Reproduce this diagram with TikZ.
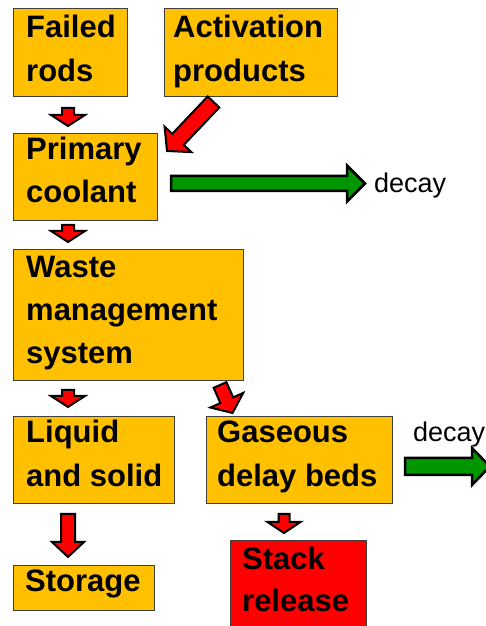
\documentclass[tikz,border=0pt]{standalone}
\usepackage{fontspec}
\setmainfont{Liberation Sans}
\usetikzlibrary{calc}
\definecolor{boxorange}{RGB}{255,192,0}
\definecolor{arrowred}{RGB}{255,0,0}
\definecolor{arrowgreen}{RGB}{0,150,0}
\definecolor{edgegray}{RGB}{64,64,64}
\tikzset{
  box/.style={draw=edgegray, line width=1pt, fill=boxorange, anchor=north west, inner sep=0pt, outer sep=0pt},
  lbl/.style={font=\fontsize{31}{43}\selectfont\bfseries, inner sep=0pt, anchor=base west},
  dlbl/.style={font=\fontsize{27}{32}\selectfont, inner sep=0pt, anchor=base west},
  redarrow/.style={draw=black, line width=2pt, fill=arrowred, line join=miter},
  greenarrow/.style={draw=black, line width=2.5pt, fill=arrowgreen, line join=miter},
}
% #1 style, #2 tail coordinate, #3 tip coordinate, #4 shaft half width, #5 head half width, #6 head length
\newcommand\blockarrow[6]{%
  \coordinate (baH) at ($(#3)!#6!(#2)$);
  \draw[#1] ($(#2)!#4!90:(#3)$) -- ($(baH)!#4!90:(#3)$) -- ($(baH)!#5!90:(#3)$) -- (#3)
    -- ($(baH)!#5!-90:(#3)$) -- ($(baH)!#4!-90:(#3)$) -- ($(#2)!#4!-90:(#3)$) -- cycle;}
\begin{document}
\begin{tikzpicture}[x=1pt,y=1pt]
\useasboundingbox (0,0) rectangle (486,626);
\clip (0,0) rectangle (486,626);
\fill[white] (0,0) rectangle (486,626);

% boxes
\node[box, minimum width=114pt, minimum height=88pt] (fr) at (13,617) {};
\node[box, minimum width=173pt, minimum height=88pt] (ap) at (164,617) {};
\node[box, minimum width=144pt, minimum height=87pt] (pc) at (13,492) {};
\node[box, minimum width=230pt, minimum height=131pt] (wm) at (13,376) {};
\node[box, minimum width=161pt, minimum height=87pt] (ls) at (13,209) {};
\node[box, minimum width=186pt, minimum height=87pt] (gd) at (206,209) {};
\node[box, minimum width=141pt, minimum height=45pt] (st) at (13,60) {};
\node[box, fill=arrowred, minimum width=136pt, minimum height=92pt] (sr) at (230,85) {};

% texts
\node[lbl] (fr1) at (26,588) {Failed};
\node[lbl] (fr2) at (26,544) {rods};
\node[lbl] (ap1) at (173,588) {Activation};
\node[lbl] (ap2) at (173,544) {products};
\node[lbl] (pc1) at (26,466) {Primary};
\node[lbl] (pc2) at (26,423) {coolant};
\node[lbl] (wm1) at (26,348) {Waste};
\node[lbl] (wm2) at (26,305) {management};
\node[lbl] (wm3) at (26,262) {system};
\node[lbl] (ls1) at (26,183) {Liquid};
\node[lbl] (ls2) at (26,139) {and solid};
\node[lbl] (gd1) at (217,183) {Gaseous};
\node[lbl] (gd2) at (217,139) {delay beds};
\node[lbl] (st1) at (25,34) {Storage};
\node[lbl] (sr1) at (242,56) {Stack};
\node[lbl] (sr2) at (242,14) {release};
\node[dlbl] (dc1) at (374,433) {decay};
\node[dlbl] (dc2) at (413,184) {decay};

% arrow end points
\coordinate (a1s) at (68,518);  \coordinate (a1e) at (68,500);
\coordinate (a2s) at (213.5,524); \coordinate (a2e) at (167,475);
\coordinate (a3s) at (68,401);  \coordinate (a3e) at (68,384);
\coordinate (a4s) at (68,236);  \coordinate (a4e) at (68,219);
\coordinate (a5s) at (220,241); \coordinate (a5e) at (232.5,213);
\coordinate (a6s) at (68,112);  \coordinate (a6e) at (68,69);
\coordinate (a7s) at (284,112); \coordinate (a7e) at (284,93);
\coordinate (g1s) at (171,442.5); \coordinate (g1e) at (365,442.5);
\coordinate (g2s) at (405,159.5); \coordinate (g2e) at (490,159.5);

% arrows
\blockarrow{redarrow}{a1s}{a1e}{6pt}{17pt}{11pt}
\blockarrow{redarrow}{a2s}{a2e}{8pt}{18.5pt}{16pt}
\blockarrow{redarrow}{a3s}{a3e}{6pt}{17pt}{11pt}
\blockarrow{redarrow}{a4s}{a4e}{6pt}{17pt}{11pt}
\blockarrow{redarrow}{a5s}{a5e}{7pt}{18pt}{14pt}
\blockarrow{redarrow}{a6s}{a6e}{7pt}{16pt}{15pt}
\blockarrow{redarrow}{a7s}{a7e}{5.5pt}{16.5pt}{11pt}
\blockarrow{greenarrow}{g1s}{g1e}{7.5pt}{18pt}{18pt}
\blockarrow{greenarrow}{g2s}{g2e}{8.5pt}{18.5pt}{18pt}
\end{tikzpicture}
\end{document}
